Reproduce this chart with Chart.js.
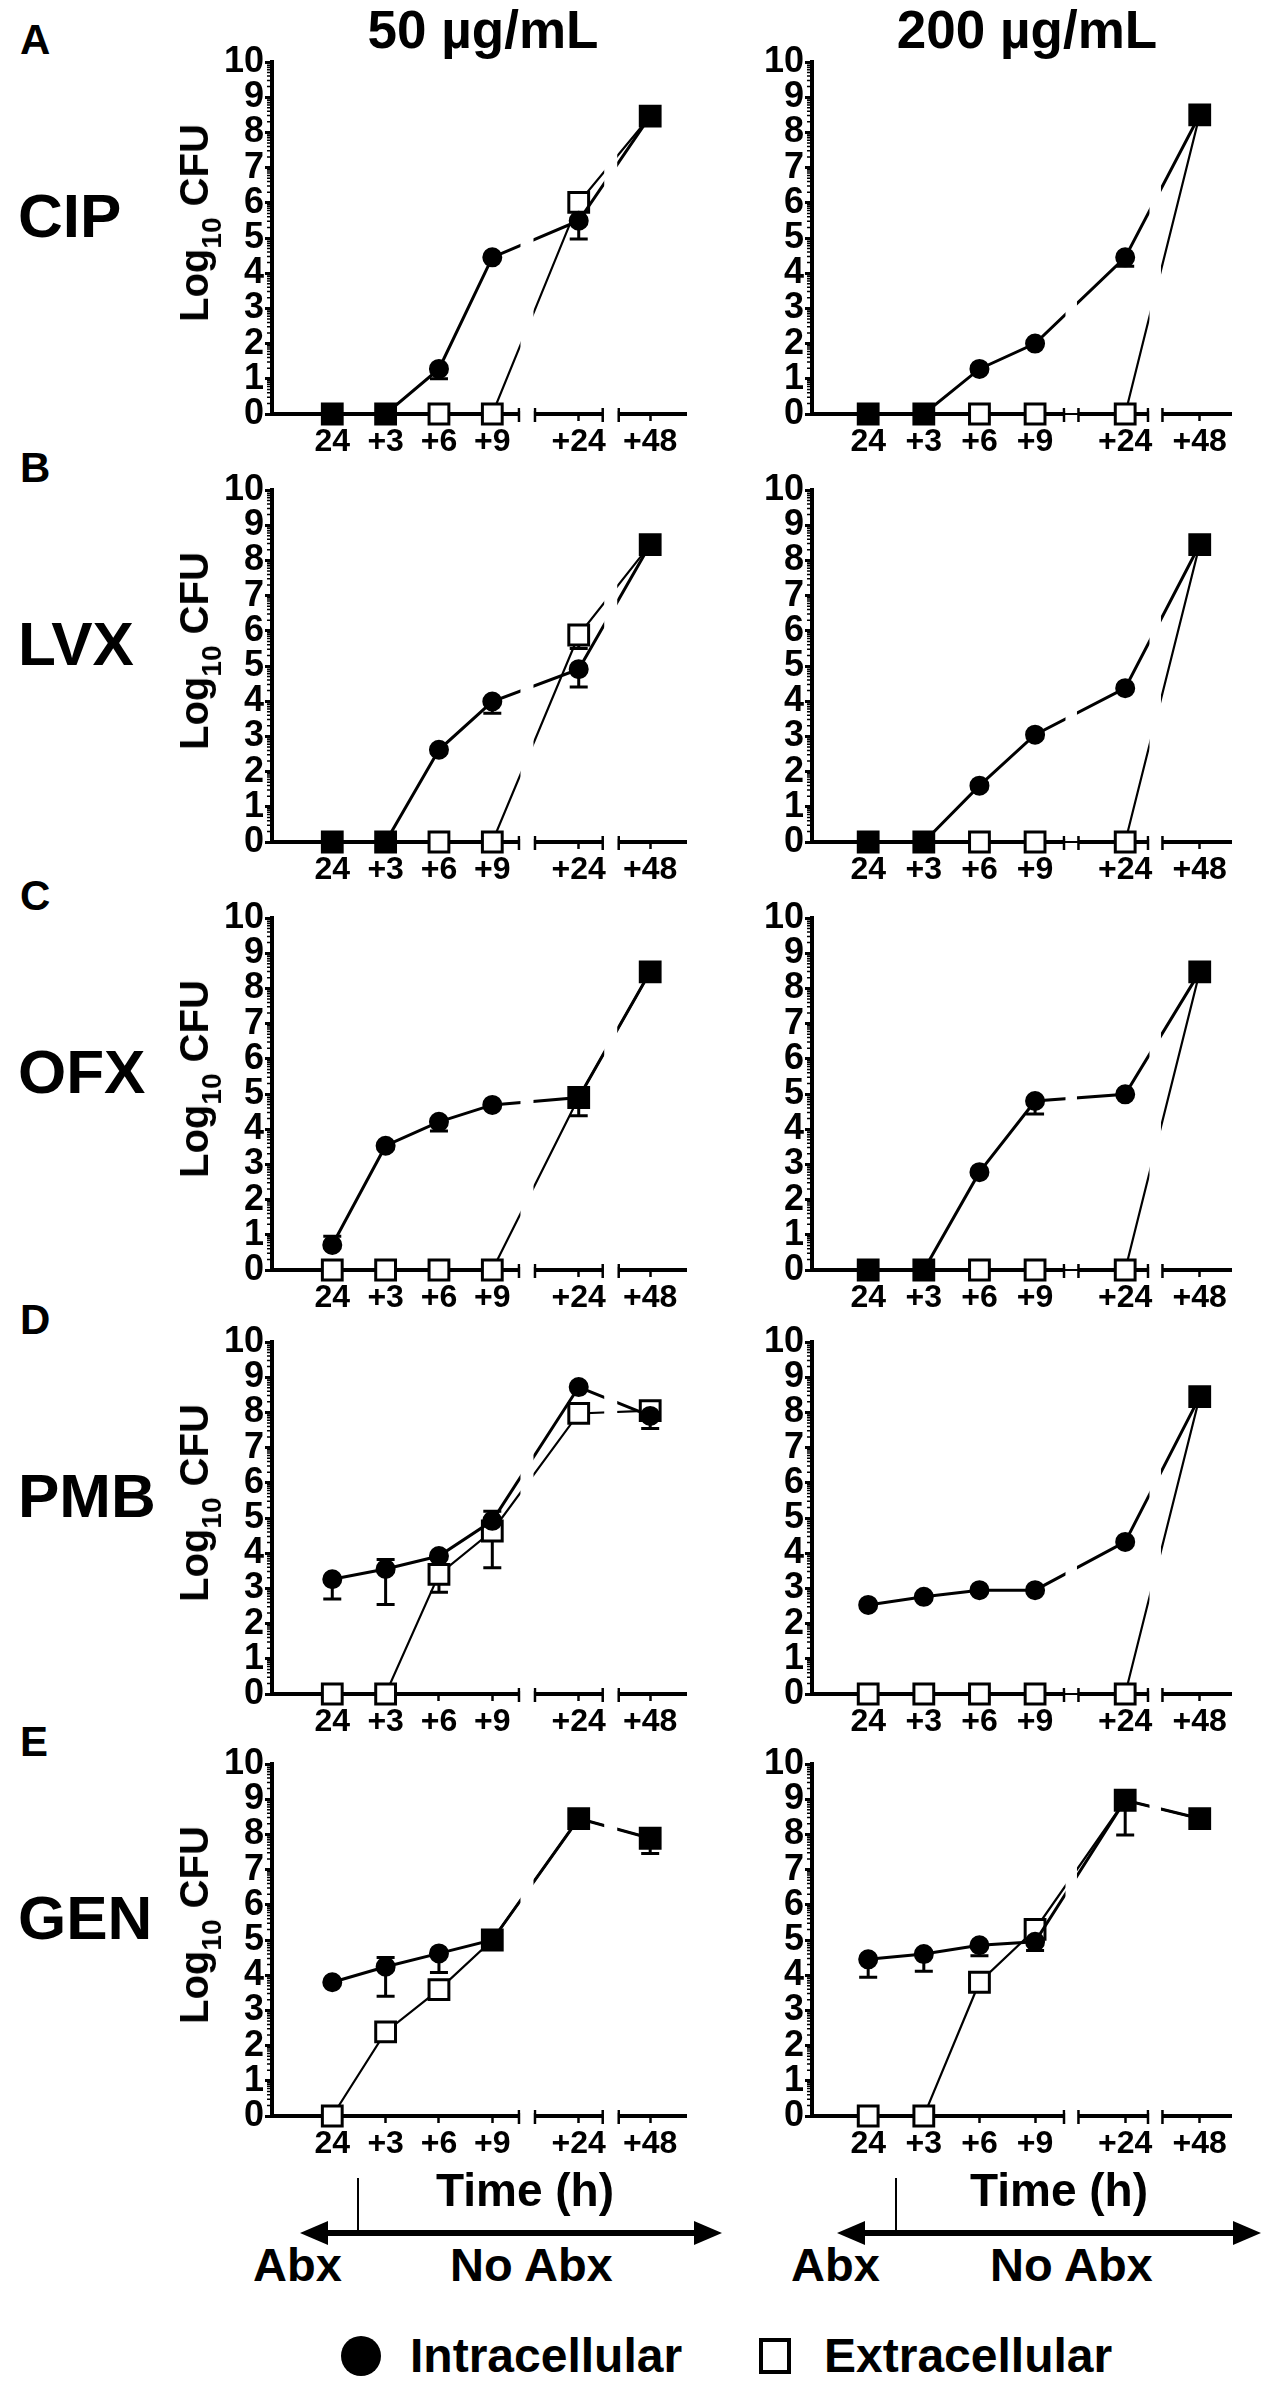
<!DOCTYPE html>
<html>
<head>
<meta charset="utf-8">
<script src="https://cdn.jsdelivr.net/npm/chart.js@4.4.1/dist/chart.umd.min.js"></script>
<style>
  html, body { margin: 0; padding: 0; background: #fff; }
  #fig {
    position: relative; width: 1268px; height: 2382px; overflow: hidden;
    font-family: "Liberation Sans", Arial, Helvetica, sans-serif; font-weight: bold; color: #000;
  }
  .panel { position: absolute; }
  .txt { position: absolute; white-space: nowrap; line-height: 1; }
  #marks { position: absolute; left: 0; top: 0; }
</style>
</head>
<body>
<div id="fig">
  <svg id="marks" width="1268" height="2382"></svg>
</div>
<script>
// x axis (broken): time points and where they sit on the linear scale
const timeLabels = ['24', '+3', '+6', '+9', '+24', '+48'];
const timePos = [0, 1, 2, 3, 4.62, 5.96];
const drugs = ['CIP', 'LVX', 'OFX', 'PMB', 'GEN'];
const panelLetters = ['A', 'B', 'C', 'D', 'E'];
const concentrations = ['50 µg/mL', '200 µg/mL'];

// Log10 CFU; error arrays hold [low, high] bar ends or null
const cip50Intra = [0, 0, 1.28, 4.45, 5.49, 8.46];
const cip50IntraErr = [null, null, [1.0, null], null, [4.97, null], null];
const cip50Extra = [0, 0, 0, 0, 6.01, 8.46];
const cip50ExtraErr = [null, null, null, null, null, null];

const cip200Intra = [0, 0, 1.28, 2.0, 4.45, 8.5];
const cip200IntraErr = [null, null, null, null, [4.2, null], null];
const cip200Extra = [0, 0, 0, 0, 0, 8.5];
const cip200ExtraErr = [null, null, null, null, null, null];

const lvx50Intra = [0, 0, 2.62, 3.99, 4.91, 8.45];
const lvx50IntraErr = [null, null, null, [3.66, null], [4.4, null], null];
const lvx50Extra = [0, 0, 0, 0, 5.88, 8.45];
const lvx50ExtraErr = [null, null, null, null, [5.5, null], null];

const lvx200Intra = [0, 0, 1.6, 3.05, 4.37, 8.45];
const lvx200IntraErr = [null, null, null, null, null, null];
const lvx200Extra = [0, 0, 0, 0, 0, 8.45];
const lvx200ExtraErr = [null, null, null, null, null, null];

const ofx50Intra = [0.71, 3.53, 4.21, 4.69, 4.9, 8.47];
const ofx50IntraErr = [[null, 0.96], null, [3.95, null], null, [4.38, null], null];
const ofx50Extra = [0, 0, 0, 0, 4.9, 8.47];
const ofx50ExtraErr = [null, null, null, null, null, null];

const ofx200Intra = [0, 0, 2.78, 4.8, 4.99, 8.47];
const ofx200IntraErr = [null, null, null, [4.43, null], null, null];
const ofx200Extra = [0, 0, 0, 0, 0, 8.47];
const ofx200ExtraErr = [null, null, null, null, null, null];

const pmb50Intra = [3.26, 3.55, 3.92, 4.92, 8.72, 7.9];
const pmb50IntraErr = [[2.7, null], [2.54, 3.82], null, [null, 5.19], null, [7.54, null]];
const pmb50Extra = [0, 0, 3.4, 4.63, 7.97, 8.05];
const pmb50ExtraErr = [null, null, [2.89, null], [3.59, null], null, null];

const pmb200Intra = [2.53, 2.76, 2.95, 2.95, 4.32, 8.45];
const pmb200IntraErr = [null, null, null, null, null, null];
const pmb200Extra = [0, 0, 0, 0, 0, 8.45];
const pmb200ExtraErr = [null, null, null, null, null, null];

const gen50Intra = [3.8, 4.24, 4.62, 5.0, 8.45, 7.89];
const gen50IntraErr = [null, [3.4, 4.5], [4.08, null], null, null, [7.46, null]];
const gen50Extra = [0, 2.39, 3.59, 5.0, 8.45, 7.89];
const gen50ExtraErr = [null, null, null, null, null, null];

const gen200Intra = [4.45, 4.6, 4.85, 4.95, 8.97, 8.45];
const gen200IntraErr = [[3.94, null], [4.11, null], [4.55, null], [4.7, null], [7.98, null], null];
const gen200Extra = [0, 0, 3.8, 5.3, 8.97, 8.45];
const gen200ExtraErr = [null, null, null, null, null, null];

// layout of the figure (pixels)
const rowZero = [414, 842, 1270, 1694, 2116];
const plotH = 352;
const colAxisX = [272, 812];
const colEndX = [692, 1237];
const colXRange = [[-1.13, 6.65], [-1.01, 6.54]];
const colBreaks = [[[3.5, 3.8], [5.07, 5.37]], [[3.52, 3.78], [5.03, 5.29]]];

const panels = [
  { row: 0, col: 0, intra: cip50Intra, intraErr: cip50IntraErr, extra: cip50Extra, extraErr: cip50ExtraErr },
  { row: 0, col: 1, intra: cip200Intra, intraErr: cip200IntraErr, extra: cip200Extra, extraErr: cip200ExtraErr },
  { row: 1, col: 0, intra: lvx50Intra, intraErr: lvx50IntraErr, extra: lvx50Extra, extraErr: lvx50ExtraErr },
  { row: 1, col: 1, intra: lvx200Intra, intraErr: lvx200IntraErr, extra: lvx200Extra, extraErr: lvx200ExtraErr },
  { row: 2, col: 0, intra: ofx50Intra, intraErr: ofx50IntraErr, extra: ofx50Extra, extraErr: ofx50ExtraErr },
  { row: 2, col: 1, intra: ofx200Intra, intraErr: ofx200IntraErr, extra: ofx200Extra, extraErr: ofx200ExtraErr },
  { row: 3, col: 0, intra: pmb50Intra, intraErr: pmb50IntraErr, extra: pmb50Extra, extraErr: pmb50ExtraErr },
  { row: 3, col: 1, intra: pmb200Intra, intraErr: pmb200IntraErr, extra: pmb200Extra, extraErr: pmb200ExtraErr },
  { row: 4, col: 0, intra: gen50Intra, intraErr: gen50IntraErr, extra: gen50Extra, extraErr: gen50ExtraErr },
  { row: 4, col: 1, intra: gen200Intra, intraErr: gen200IntraErr, extra: gen200Extra, extraErr: gen200ExtraErr }
];

const fig = document.getElementById('fig');
Chart.defaults.font.family = '"Liberation Sans", Arial, Helvetica, sans-serif';
Chart.defaults.color = '#000';

// Draws the log minor ticks, the broken x axis, and blanks the lines across the breaks
const brokenAxis = {
  id: 'brokenAxis',
  beforeDatasetsDraw(chart, args, opts) {
    const { ctx, chartArea: { left, right, bottom }, scales: { x, y } } = chart;
    ctx.save();
    ctx.strokeStyle = '#000';
    ctx.lineCap = 'butt';
    // minor ticks, GraphPad log style
    ctx.lineWidth = 1.5;
    ctx.beginPath();
    for (let n = 0; n < 10; n++) {
      for (let k = 2; k < 10; k++) {
        const py = y.getPixelForValue(n + Math.log10(k));
        ctx.moveTo(left - 5, py);
        ctx.lineTo(left, py);
      }
    }
    ctx.stroke();
    // axis segments
    const br = opts.breaks;
    const starts = [left - 2, x.getPixelForValue(br[0][1]), x.getPixelForValue(br[1][1])];
    const ends = [x.getPixelForValue(br[0][0]), x.getPixelForValue(br[1][0]), right];
    ctx.lineWidth = 4;
    ctx.beginPath();
    for (let i = 0; i < 3; i++) {
      ctx.moveTo(starts[i], bottom);
      ctx.lineTo(ends[i], bottom);
    }
    ctx.stroke();
    ctx.lineWidth = 2.5;
    ctx.beginPath();
    [ends[0], starts[1], ends[1], starts[2]].forEach(px => {
      ctx.moveTo(px, bottom - 6);
      ctx.lineTo(px, bottom + 8);
    });
    ctx.stroke();
    ctx.restore();
  },
  afterDatasetsDraw(chart, args, opts) {
    const { ctx, chartArea: { top, bottom }, scales: { x } } = chart;
    ctx.save();
    ctx.fillStyle = '#fff';
    opts.breaks.forEach(([a, b]) => {
      const x0 = x.getPixelForValue(a) + 1.5;
      const x1 = x.getPixelForValue(b) - 1.5;
      ctx.fillRect(x0, top - 20, x1 - x0, bottom - 3 - (top - 20));
    });
    ctx.restore();
  }
};

// One-sided / two-sided SEM bars with caps
const errorBars = {
  id: 'errorBars',
  beforeDatasetsDraw(chart) {
    const { ctx, scales: { y } } = chart;
    ctx.save();
    ctx.strokeStyle = '#000';
    ctx.lineWidth = 3;
    chart.data.datasets.forEach((ds, i) => {
      const meta = chart.getDatasetMeta(i);
      (ds.errors || []).forEach((e, j) => {
        if (!e) return;
        const pt = meta.data[j];
        const yv = y.getPixelForValue(ds.data[j].y);
        e.forEach(v => {
          if (v === null) return;
          const py = y.getPixelForValue(v);
          ctx.beginPath();
          ctx.moveTo(pt.x, yv);
          ctx.lineTo(pt.x, py);
          ctx.moveTo(pt.x - 9, py);
          ctx.lineTo(pt.x + 9, py);
          ctx.stroke();
        });
      });
    });
    ctx.restore();
  }
};

const padTop = 25, yAxisW = 62, padRight = 12, xAxisH = 50;

panels.forEach(p => {
  const axisX = colAxisX[p.col];
  const endX = colEndX[p.col];
  const y0 = rowZero[p.row];
  const canvas = document.createElement('canvas');
  canvas.className = 'panel';
  canvas.width = yAxisW + (endX - axisX) + padRight;
  canvas.height = padTop + plotH + xAxisH;
  canvas.style.left = (axisX - yAxisW) + 'px';
  canvas.style.top = (y0 - plotH - padTop) + 'px';
  fig.appendChild(canvas);

  // coinciding points look like a filled square in the original
  const extraFill = p.extra.map((v, i) => Math.abs(v - p.intra[i]) < 0.12 ? '#000' : '#fff');

  new Chart(canvas.getContext('2d'), {
    type: 'line',
    data: {
      datasets: [
        {
          label: 'Intracellular',
          data: p.intra.map((v, i) => ({ x: timePos[i], y: v })),
          errors: p.intraErr,
          borderColor: '#000', borderWidth: 3, tension: 0, fill: false,
          pointStyle: 'circle', pointRadius: 9, pointBorderWidth: 2,
          pointBackgroundColor: '#000', pointBorderColor: '#000',
          clip: false, order: 0
        },
        {
          label: 'Extracellular',
          data: p.extra.map((v, i) => ({ x: timePos[i], y: v })),
          errors: p.extraErr,
          borderColor: '#000', borderWidth: 2.2, tension: 0, fill: false,
          pointStyle: 'rect', pointRadius: 14, pointBorderWidth: 3,
          pointBackgroundColor: extraFill, pointBorderColor: '#000',
          clip: false, order: 1
        }
      ]
    },
    options: {
      responsive: false,
      animation: false,
      events: [],
      layout: { padding: { top: padTop, right: padRight, left: 0, bottom: 0 } },
      plugins: {
        legend: { display: false },
        tooltip: { enabled: false },
        brokenAxis: { breaks: colBreaks[p.col] }
      },
      scales: {
        x: {
          type: 'linear',
          min: colXRange[p.col][0],
          max: colXRange[p.col][1],
          afterBuildTicks: s => { s.ticks = timePos.map(v => ({ value: v })); },
          afterFit: s => { s.height = xAxisH; },
          ticks: {
            callback: (v, i) => timeLabels[i],
            font: { size: 32, weight: 'bold' },
            color: '#000', padding: 2, maxRotation: 0, autoSkip: false
          },
          grid: { drawOnChartArea: false, drawTicks: true, tickLength: 7, tickWidth: 2.5, tickColor: '#000' },
          border: { display: false }
        },
        y: {
          min: 0,
          max: 10,
          afterFit: s => { s.width = yAxisW; },
          ticks: {
            stepSize: 1, autoSkip: false,
            font: { size: 36, weight: 'bold', lineHeight: 1 },
            color: '#000', padding: 1
          },
          grid: { drawOnChartArea: false, drawTicks: true, tickLength: 7, tickWidth: 3, tickColor: '#000' },
          border: { display: true, width: 4, color: '#000' }
        }
      }
    },
    plugins: [errorBars, brokenAxis]
  });
});

// text helpers: place by baseline (Liberation Sans, line-height 1)
function addText(html, x, baseline, size, align) {
  const d = document.createElement('div');
  d.className = 'txt';
  d.innerHTML = html;
  d.style.fontSize = size + 'px';
  d.style.top = (baseline - 0.847 * size) + 'px';
  d.style.left = x + 'px';
  if (align === 'center') d.style.transform = 'translateX(-50%)';
  fig.appendChild(d);
  return d;
}

// column titles
addText(concentrations[0], 483, 48, 53, 'center');
addText(concentrations[1], 1027, 48, 53, 'center');

rowZero.forEach((y0, r) => {
  addText(panelLetters[r], 20, y0 - 359, 42);
  addText(drugs[r], 18, y0 - 176, 62);
  // rotated y title, left column only
  const t = document.createElement('div');
  t.className = 'txt';
  t.style.fontSize = '40px';
  t.innerHTML = 'Log<span style="font-size:28px;position:relative;top:13px">10</span> CFU';
  t.style.left = '194px';
  t.style.top = (y0 - 191) + 'px';
  t.style.transform = 'translate(-50%, -50%) rotate(-90deg)';
  fig.appendChild(t);
});

// bottom annotation
addText('Time (h)', 525, 2206, 46, 'center');
addText('Time (h)', 1059, 2206, 46, 'center');
addText('Abx', 253, 2281, 47);
addText('No Abx', 450, 2281, 47);
addText('Abx', 791, 2281, 47);
addText('No Abx', 990, 2281, 47);
addText('Intracellular', 410, 2373, 48);
addText('Extracellular', 824, 2373, 48);

const svg = document.getElementById('marks');
const arrows = [[300, 722, 358], [837, 1261, 896]];
let s = '';
arrows.forEach(([a, b, tick]) => {
  const y = 2233;
  s += `<line x1="${a + 20}" y1="${y}" x2="${b - 20}" y2="${y}" stroke="#000" stroke-width="6"/>`;
  s += `<polygon points="${a},${y} ${a + 28},${y - 12} ${a + 28},${y + 12}" fill="#000"/>`;
  s += `<polygon points="${b},${y} ${b - 28},${y - 12} ${b - 28},${y + 12}" fill="#000"/>`;
  s += `<line x1="${tick}" y1="2178" x2="${tick}" y2="${y}" stroke="#000" stroke-width="2"/>`;
});
s += '<circle cx="361" cy="2356" r="20" fill="#000"/>';
s += '<rect x="761" y="2340" width="28" height="32" fill="#fff" stroke="#000" stroke-width="4"/>';
svg.innerHTML = s;
</script>
</body>
</html>
